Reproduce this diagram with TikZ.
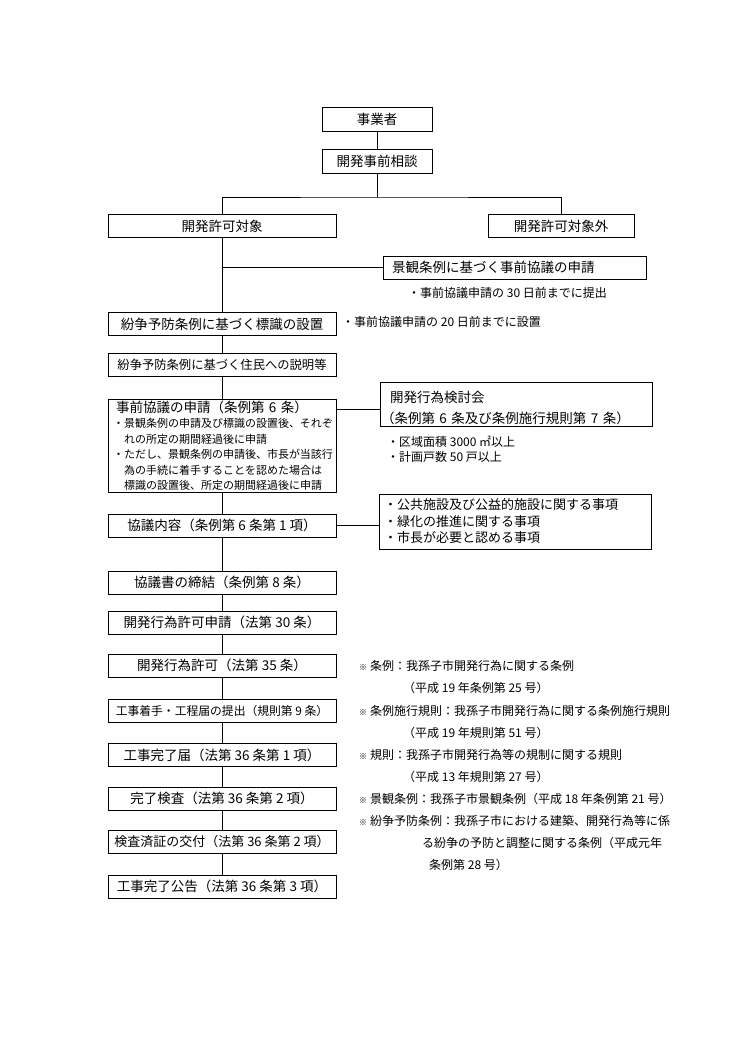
\documentclass[tikz,border=0pt]{standalone}
\usepackage{fontspec}
\setmainfont{Noto Sans CJK JP}
\newcommand{\kome}{\raisebox{0.5pt}{\fontsize{8}{8}\selectfont ※}\hspace{3pt}}
\tikzset{flow/.style={draw,line width=0.9pt,minimum width=228pt,minimum height=23pt,inner sep=1pt,font=\fontsize{13.5}{16}\selectfont},
	smallbox/.style={flow,minimum width=110pt,minimum height=24pt},
	sidebox/.style={draw,line width=0.9pt,inner xsep=1pt,inner ysep=0pt,align=left},
	note/.style={anchor=west,inner sep=0pt,font=\fontsize{12}{14}\selectfont},
	link/.style={line width=0.9pt}}
\begin{document}
\begin{tikzpicture}[x=1pt,y=-1pt]
	\useasboundingbox (0,0) rectangle (750,1061);
	\node[smallbox] (jigyosha) at (377,119) {事業者};
	\node[smallbox] (sodan) at (377,161) {開発事前相談};
	\node[flow] (taisho) at (222,226) {開発許可対象};
	\node[flow,minimum width=146pt] (taishogai) at (561,226) {開発許可対象外};
	\node[sidebox,text width=261pt,minimum height=23pt,font=\fontsize{13.5}{16}\selectfont] (keikan) at (514.5,267.5) {\hspace*{8pt}景観条例に基づく事前協議の申請};
	\node[note] (note30) at (408,293) {・事前協議申請の 30 日前までに提出};
	\node[flow] (hyoshiki) at (222,324) {紛争予防条例に基づく標識の設置};
	\node[note] (note20) at (342,322) {・事前協議申請の 20 日前までに設置};
	\node[flow,font=\fontsize{12.3}{15}\selectfont] (setsumei) at (222,365) {紛争予防条例に基づく住民への説明等};
	\node[sidebox,text width=226pt,minimum height=93pt,font=\fontsize{13.5}{15.5}\selectfont] (shinsei) at (222,445.5) {\hspace*{7pt}事前協議の申請（条例第 6 条）\\
		\fontsize{11}{15.5}\selectfont\hspace*{4pt}・景観条例の申請及び標識の設置後、それぞ\\
		\hspace*{15pt}れの所定の期間経過後に申請\\
		\hspace*{4pt}・ただし、景観条例の申請後、市長が当該行\\
		\hspace*{15pt}為の手続に着手することを認めた場合は\\
		\hspace*{15pt}標識の設置後、所定の期間経過後に申請};
	\node[sidebox,text width=270pt,minimum height=44pt,font=\fontsize{13.5}{21}\selectfont] (kentokai) at (516,404) {\rule{0pt}{20pt}\hspace*{9pt}開発行為検討会\\（条例第 6 条及び条例施行規則第 7 条）};
	\coordinate (kentoin) at (381,409);
	\node[note] (kuiki) at (387,442) {・区域面積 3000 ㎡以上};
	\node[note] (kosu) at (387,457) {・計画戸数 50 戸以上};
	\node[flow] (kyogi) at (222,525.5) {協議内容（条例第 6 条第 1 項）};
	\node[sidebox,text width=270pt,minimum height=55pt,font=\fontsize{13}{16.5}\selectfont] (jiko) at (515,521.5) {\hspace*{4pt}・公共施設及び公益的施設に関する事項\\\hspace*{4pt}・緑化の推進に関する事項\\\hspace*{4pt}・市長が必要と認める事項};
	\node[flow] (teiketsu) at (222,582.5) {協議書の締結（条例第 8 条）};
	\node[flow] (kyokashinsei) at (222,622.5) {開発行為許可申請（法第 30 条）};
	\node[flow] (kyoka) at (222,665.5) {開発行為許可（法第 35 条）};
	\node[flow,font=\fontsize{11.8}{14}\selectfont] (chakushu) at (222,711) {工事着手・工程届の提出（規則第 9 条）};
	\node[flow] (kanryotodoke) at (222,755) {工事完了届（法第 36 条第 1 項）};
	\node[flow] (kensa) at (222,798.5) {完了検査（法第 36 条第 2 項）};
	\node[flow,font=\fontsize{13}{15}\selectfont] (kensazumi) at (222,842) {検査済証の交付（法第 36 条第 2 項）};
	\node[flow] (kokoku) at (222,886.5) {工事完了公告（法第 36 条第 3 項）};
	\node[note] (jorei) at (359,666) {\kome 条例：我孫子市開発行為に関する条例};
	\node[note] (joreino) at (403,688) {（平成 19 年条例第 25 号）};
	\node[note] (sekokisoku) at (359,711) {\kome 条例施行規則：我孫子市開発行為に関する条例施行規則};
	\node[note] (sekokisokuno) at (403,733) {（平成 19 年規則第 51 号）};
	\node[note] (kisoku) at (359,755) {\kome 規則：我孫子市開発行為等の規制に関する規則};
	\node[note] (kisokuno) at (403,777) {（平成 13 年規則第 27 号）};
	\node[note] (keikanjorei) at (359,799) {\kome 景観条例：我孫子市景観条例（平成 18 年条例第 21 号）};
	\node[note] (funso) at (359,821) {\kome 紛争予防条例：我孫子市における建築、開発行為等に係};
	\node[note] (funso2) at (422,843) {る紛争の予防と調整に関する条例（平成元年};
	\node[note] (funso3) at (429,865) {条例第 28 号）};
	\coordinate (split) at (377,197);
	\draw[link] (jigyosha) -- (sodan);
	\draw[link] (sodan) -- (split);
	\draw[link] (taisho.north) |- (split) -| (taishogai.north);
	\draw[link] (taisho.south |- keikan.west) -- (keikan.west);
	\draw[link] (taisho) -- (hyoshiki);
	\draw[link] (hyoshiki) -- (setsumei);
	\draw[link] (setsumei) -- (shinsei);
	\draw[link] (shinsei.east |- kentoin) -- (kentoin);
	\draw[link] (shinsei) -- (kyogi);
	\draw[link] (kyogi.east) -- (kyogi.east -| jiko.west);
	\draw[link] (kyogi) -- (teiketsu);
	\draw[link] (teiketsu) -- (kyokashinsei);
	\draw[link] (kyokashinsei) -- (kyoka);
	\draw[link] (kyoka) -- (chakushu);
	\draw[link] (chakushu) -- (kanryotodoke);
	\draw[link] (kanryotodoke) -- (kensa);
	\draw[link] (kensa) -- (kensazumi);
	\draw[link] (kensazumi) -- (kokoku);
\end{tikzpicture}
\end{document}
